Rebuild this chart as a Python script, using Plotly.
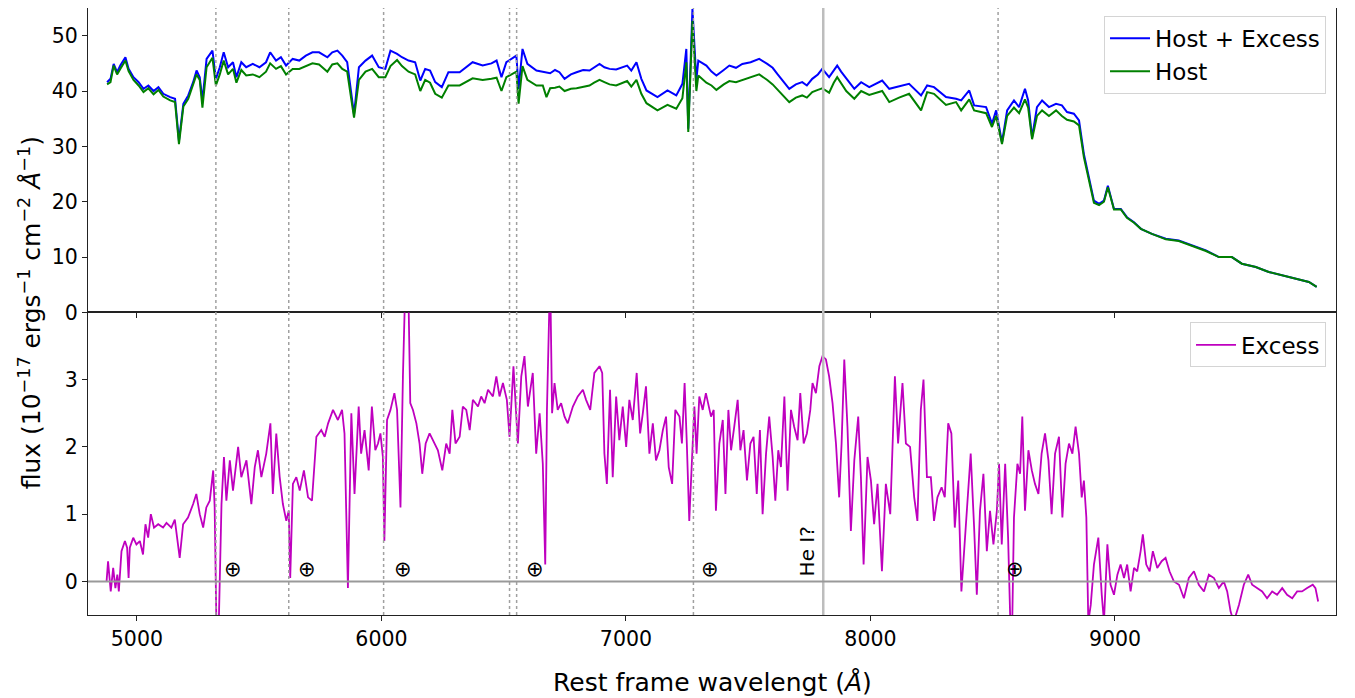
import plotly.graph_objects as go

# ---------------- data ----------------
wl_top = [4878, 4892, 4905, 4919, 4932, 4953, 4966, 4986, 5007, 5027, 5047, 5068, 5088, 5108,
          5136, 5156, 5172, 5190, 5210, 5230, 5244, 5257, 5268, 5285, 5309, 5323, 5339, 5355,
          5373, 5393, 5407, 5427, 5447, 5474, 5501, 5528, 5545, 5569, 5589, 5610, 5637, 5664,
          5691, 5718, 5745, 5779, 5799, 5820, 5840, 5860, 5888, 5908, 5935, 5962, 5989, 6016,
          6037, 6064, 6084, 6111, 6138, 6159, 6179, 6199, 6220, 6247, 6274, 6320, 6373, 6414,
          6450, 6471, 6491, 6511, 6552, 6561, 6577, 6597, 6634, 6660, 6675,
          6690, 6710, 6728, 6749, 6775, 6798, 6825, 6851, 6870, 6892, 6912, 6933, 6960, 6986,
          7005, 7022, 7043, 7063, 7084, 7129, 7170, 7206, 7231, 7247,
          7255, 7272, 7288, 7296,
          7329, 7350, 7370, 7400, 7423, 7450, 7476, 7510, 7545, 7578, 7600, 7619, 7640, 7668,
          7695, 7721, 7740, 7762, 7785, 7803, 7831, 7850, 7864, 7880, 7901, 7920, 7934, 7962,
          7995, 8048, 8077, 8117, 8158, 8207, 8232, 8260,
          8309, 8350, 8371, 8404, 8424, 8473, 8497, 8514, 8538, 8559, 8587, 8608, 8632, 8645,
          8661, 8681, 8702, 8730, 8759, 8783, 8804, 8832, 8853, 8873, 8894, 8914, 8935, 8955,
          8971, 8996, 9024, 9049, 9078, 9106, 9151, 9208, 9261, 9315, 9372, 9425, 9478, 9519,
          9576, 9629, 9682, 9739, 9793, 9825]

host_plus_excess = [41.6, 42.2, 44.9, 43.4, 44.6, 46.1, 44.0, 42.5, 41.6, 40.4, 41.0, 40.0, 40.7, 39.5,
                    38.9, 38.6, 31.0, 37.7, 39.2, 41.6, 43.7, 42.5, 38.3, 45.8, 47.3, 42.2, 44.3, 47.0,
                    44.3, 45.2, 42.5, 45.2, 44.3, 44.9, 44.3, 45.2, 47.0, 45.5, 46.1, 44.6, 45.8, 45.5,
                    46.4, 47.0, 47.0, 46.1, 47.0, 47.3, 46.4, 45.2, 35.8, 44.3, 45.5, 46.4, 44.3, 44.0,
                    47.3, 46.7, 46.1, 45.5, 45.2, 41.9, 44.0, 43.7, 41.6, 40.7, 43.4, 43.4, 45.2, 44.6,
                    45.0, 45.5, 42.5, 45.2, 46.4, 40.4, 47.6, 44.9, 43.7, 43.5, 43.4,
                    43.2, 43.8, 43.4, 42.2, 43.0, 43.4, 43.8, 43.7, 44.2, 44.9, 44.3, 44.0, 43.9, 44.3,
                    44.6, 43.7, 45.2, 42.2, 40.1, 38.9, 40.1, 39.2, 41.3, 47.6,
                    33.2, 54.8, 42.0, 45.5,
                    44.6, 43.5, 42.8, 43.8, 44.6, 44.2, 44.9, 45.2, 45.8, 44.9, 44.2, 43.1, 42.0, 40.4,
                    41.2, 41.6, 41.0, 42.2, 43.0, 44.0, 42.5, 43.8, 44.6, 43.5, 42.2, 41.2, 40.4, 41.6,
                    40.7, 41.9, 40.4, 40.8, 41.3, 39.2, 41.0, 40.7,
                    38.9, 38.6, 38.3, 40.1, 37.4, 37.1, 34.1, 36.5, 30.7, 36.5, 38.3, 37.1, 40.4, 38.3,
                    31.6, 37.1, 38.3, 37.1, 37.7, 37.4, 36.2, 35.9, 34.7, 28.6, 24.4, 20.2, 19.6, 20.2,
                    22.9, 18.7, 18.7, 17.2, 16.3, 15.1, 14.2, 13.3, 13.0, 12.1, 11.2, 10.0, 10.0, 8.8,
                    8.2, 7.3, 6.7, 6.1, 5.5, 4.6]

host = [41.2, 41.6, 44.6, 43.0, 44.0, 45.5, 43.6, 42.0, 41.0, 39.8, 40.5, 39.4, 40.2, 39.0,
        38.3, 38.0, 30.4, 37.2, 38.6, 41.0, 43.0, 42.0, 37.0, 44.3, 46.0, 41.0, 43.0, 45.5,
        43.0, 44.0, 41.5, 43.8, 42.8, 43.0, 42.5, 43.5, 45.0, 44.0, 44.5, 43.0, 44.0, 44.0,
        44.5, 45.0, 44.8, 43.5, 44.8, 45.0, 44.0, 43.5, 35.2, 42.0, 43.5, 44.0, 42.5, 42.5,
        44.5, 45.6, 44.5, 43.5, 43.0, 40.0, 42.0, 41.5, 39.5, 38.8, 41.0, 41.0, 42.3, 42.0,
        42.2, 42.4, 40.0, 42.5, 43.5, 37.7, 44.5, 42.0, 41.0, 41.0, 38.9,
        40.5, 40.6, 40.8, 40.0, 40.4, 40.5, 40.8, 41.0, 41.5, 42.0, 41.6, 41.2, 41.0, 41.4,
        41.8, 40.8, 42.0, 39.5, 37.8, 36.5, 37.5, 36.8, 38.7, 45.2,
        32.6, 52.7, 40.0, 42.8,
        41.5, 41.0, 40.2, 41.2, 41.8, 41.6, 42.0, 42.5, 43.0, 42.0, 41.2, 40.3, 39.3, 38.0,
        38.8, 39.2, 38.8, 39.8, 40.2, 40.5, 39.7, 41.5, 42.5, 41.5, 40.0, 39.2, 38.6, 40.0,
        39.3, 40.0, 38.0, 38.8, 39.5, 36.5, 39.8, 39.5,
        37.5, 38.0, 36.5, 38.5, 36.5, 36.0, 33.5, 35.5, 30.4, 35.5, 37.0, 36.0, 38.5, 37.0,
        31.3, 35.5, 36.5, 35.5, 36.5, 35.5, 34.8, 34.5, 33.8, 28.0, 24.0, 19.8, 19.4, 20.0,
        22.6, 18.6, 18.6, 17.1, 16.2, 15.1, 14.2, 13.2, 12.9, 12.0, 11.1, 10.0, 10.0, 8.8,
        8.2, 7.3, 6.7, 6.1, 5.5, 4.6]

wl_exc = [4876, 4882, 4893, 4903, 4912, 4920, 4926, 4937, 4951, 4960, 4966, 4971, 4985, 4998,
          5012, 5025, 5035, 5046, 5057, 5070, 5087, 5107, 5121, 5141, 5155, 5175, 5189, 5209,
          5230, 5243, 5257, 5271, 5284, 5298, 5312, 5318, 5325, 5335, 5346, 5356, 5366, 5380,
          5393, 5414, 5427, 5448, 5468, 5482, 5495, 5509, 5529, 5546, 5556, 5570, 5584, 5597,
          5611, 5621, 5627, 5638, 5652, 5666, 5683, 5700, 5716, 5734, 5754, 5768, 5782, 5802,
          5822, 5839, 5849, 5863, 5877, 5890, 5907, 5917, 5931, 5948, 5961, 5975, 5986, 5996,
          6006, 6012, 6023, 6037, 6053, 6064, 6078, 6088, 6099, 6109, 6118, 6129, 6143, 6156,
          6167, 6181, 6197, 6211, 6231, 6249, 6265, 6279, 6290, 6303, 6320, 6333, 6347, 6361,
          6374, 6395, 6408, 6422, 6436, 6456, 6470, 6483, 6497, 6513, 6524, 6540, 6558, 6572,
          6585, 6599, 6619, 6633, 6647, 6660, 6670, 6677, 6685, 6690, 6698, 6708, 6721, 6735,
          6749, 6762, 6783, 6803, 6824, 6837, 6854, 6871, 6892, 6903, 6912, 6922, 6935, 6946,
          6960, 6973, 6987, 7001, 7014, 7028, 7044, 7058, 7069, 7082, 7096, 7110, 7123, 7137,
          7151, 7164, 7175, 7189, 7202, 7219, 7229, 7240, 7249, 7259, 7270, 7280, 7289, 7300,
          7314, 7327, 7348, 7359, 7368, 7382, 7396, 7407, 7419, 7430, 7443, 7457, 7468, 7481,
          7495, 7509, 7522, 7535, 7548, 7559, 7573, 7586, 7600, 7611, 7623, 7634, 7648, 7661,
          7675, 7688, 7702, 7713, 7727, 7740, 7754, 7763, 7777, 7791, 7804, 7818, 7831, 7845,
          7859, 7872, 7882, 7893, 7906, 7920, 7934, 7950, 7961, 7972, 7988, 8002, 8015, 8029,
          8047, 8063, 8081, 8100, 8113, 8131, 8145, 8162, 8179, 8192, 8206, 8217, 8231, 8247,
          8260, 8274, 8291, 8304, 8318, 8331, 8345, 8359, 8372, 8386, 8397, 8410, 8424, 8435,
          8448, 8462, 8476, 8489, 8503, 8517, 8526, 8537, 8551, 8563, 8572, 8580, 8587, 8601,
          8612, 8621, 8632, 8646, 8660, 8673, 8687, 8700, 8714, 8728, 8741, 8755, 8771, 8785,
          8798, 8812, 8826, 8839, 8853, 8864, 8873, 8883, 8891, 8901, 8914, 8932, 8946, 8955,
          8969, 8982, 8996, 9010, 9023, 9037, 9050, 9064, 9078, 9091, 9105, 9114, 9128, 9142,
          9155, 9173, 9191, 9207, 9223, 9241, 9262, 9282, 9302, 9323, 9343, 9364, 9384, 9405,
          9425, 9445, 9459, 9473, 9486, 9507, 9527, 9545, 9561, 9582, 9602, 9622, 9643, 9663,
          9684, 9704, 9725, 9745, 9765, 9786, 9809, 9820, 9831]

excess = [0.0, 0.3, -0.15, 0.2, -0.1, 0.1, -0.15, 0.45, 0.6, 0.5, 0.05, 0.5, 0.65, 0.55,
          0.6, 0.4, 0.85, 0.65, 1.0, 0.8, 0.85, 0.8, 0.87, 0.8, 0.92, 0.35, 0.85, 0.95,
          1.15, 1.3, 1.0, 0.8, 1.1, 1.2, 1.65, 1.1, -0.6, -0.6, 1.15, 1.85, 1.2, 1.8,
          1.35, 2.0, 1.55, 1.8, 1.15, 1.7, 1.95, 1.55, 1.9, 2.35, 1.3, 2.2, 1.55, 1.15,
          0.9, 1.05, 0.05, 1.45, 1.55, 1.35, 1.65, 1.25, 1.2, 2.15, 2.25, 2.15, 2.35, 2.55,
          2.4, 2.55, 2.2, -0.1, 2.5, 1.3, 2.6, 1.9, 2.25, 1.65, 2.6, 1.95, 2.05, 2.2,
          1.85, 0.6, 2.4, 2.55, 2.8, 2.55, 1.1, 3.05, 4.6, 4.6, 2.65, 2.55, 2.35, 2.05,
          1.6, 2.05, 2.2, 2.1, 1.95, 1.65, 2.05, 1.9, 2.55, 2.05, 2.15, 2.6, 2.55, 2.25,
          2.7, 2.6, 2.75, 2.65, 2.85, 2.75, 3.05, 2.75, 2.95, 2.7, 2.15, 3.2, 2.05, 3.05,
          3.35, 2.6, 3.1, 1.9, 2.5, 1.75, 0.25, 2.55, 4.6, 4.6, 2.5, 2.95, 2.55, 2.65,
          2.45, 2.35, 2.6, 2.75, 2.85, 2.7, 2.55, 3.1, 3.2, 3.1, 1.9, 1.45, 2.85, 1.55,
          2.75, 2.1, 2.6, 2.0, 2.7, 2.4, 3.1, 2.2, 2.5, 2.9, 1.9, 2.35, 1.8, 1.95,
          2.25, 2.45, 1.7, 1.45, 2.55, 2.45, 2.05, 2.95, 2.05, 0.9, 1.8, 2.6, 1.9, 2.75,
          2.55, 2.8, 2.45, 2.55, 1.05, 2.05, 2.4, 1.3, 2.55, 1.95, 2.3, 2.7, 1.95, 2.25,
          1.5, 2.05, 2.15, 1.3, 2.25, 1.0, 1.9, 2.45, 1.85, 1.2, 1.95, 1.7, 2.75, 1.35,
          2.55, 2.3, 2.1, 2.8, 2.05, 2.2, 2.55, 2.95, 2.8, 3.2, 3.35, 3.3, 3.05, 2.65,
          2.05, 1.25, 2.05, 3.3, 2.3, 0.75, 1.8, 2.45, 1.55, 0.25, 1.85, 1.5, 0.85, 1.45,
          0.15, 1.45, 1.0, 3.05, 2.05, 2.95, 2.05, 2.0, 1.25, 0.9, 2.55, 3.0, 1.55, 1.55,
          0.9, 1.25, 1.4, 1.25, 2.35, 2.2, 0.8, 1.5, -0.15, 0.6, 1.3, 1.9, 0.8, -0.2,
          1.05, 1.6, 0.45, 1.05, 0.55, 1.05, 1.75, 0.55, 1.75, 0.65, -0.6, -0.6, 0.95, 1.75,
          1.6, 2.45, 1.05, 1.95, 1.65, 1.45, 1.3, 1.9, 2.2, 1.8, 1.0, 1.9, 2.15, 0.95,
          1.75, 2.05, 1.9, 2.3, 1.9, 1.25, 1.5, 0.95, -0.6, -0.35, 0.25, 0.65, -0.2, -0.6,
          0.55, -0.05, -0.2, 0.1, 0.25, 0.05, 0.25, -0.15, 0.2, 0.15, 0.45, 0.7, 0.25, 0.15,
          0.45, 0.2, 0.3, 0.35, 0.15, 0.0, -0.05, -0.25, 0.05, 0.15, -0.05, -0.15, 0.1, 0.05,
          -0.1, 0.0, -0.15, -0.45, -0.6, -0.35, -0.05, 0.1, -0.05, -0.1, -0.15, -0.25, -0.15, -0.2,
          -0.1, -0.2, -0.25, -0.15, -0.15, -0.1, -0.05, -0.1, -0.3]

telluric_lines = [5323, 5621, 6009, 6524, 6553, 7276, 8522]
he_line = 7807
earth_x = [5392, 5695, 6087, 6630, 7345, 8591]
earth_y = 0.18

# ---------------- figure ----------------
fig = go.Figure()

fig.add_trace(go.Scatter(x=wl_top, y=host_plus_excess, mode="lines", name="Host + Excess",
                         line=dict(color="#0000ff", width=2), xaxis="x", yaxis="y"))
fig.add_trace(go.Scatter(x=wl_top, y=host, mode="lines", name="Host",
                         line=dict(color="#008000", width=2), xaxis="x", yaxis="y"))
fig.add_trace(go.Scatter(x=wl_exc, y=excess, mode="lines", name="Excess",
                         line=dict(color="#bf00bf", width=1.8), xaxis="x2", yaxis="y2",
                         legend="legend2"))

shapes = []
for w in telluric_lines:
    shapes.append(dict(type="line", xref="x2", yref="paper", x0=w, x1=w, y0=0, y1=1,
                       line=dict(color="#a0a0a0", width=1.5, dash="dot"), layer="above"))
shapes.append(dict(type="line", xref="x2", yref="paper", x0=he_line, x1=he_line, y0=0, y1=1,
                   line=dict(color="#bdbdbd", width=2.5), layer="above"))
shapes.append(dict(type="line", xref="paper", yref="y2", x0=0, x1=1, y0=0, y1=0,
                   line=dict(color="#999999", width=2), layer="above"))

annotations = []
for ex in earth_x:
    annotations.append(dict(x=ex, y=earth_y, xref="x2", yref="y2", text="⊕", showarrow=False,
                            font=dict(size=21, color="black", family="DejaVu Sans"),
                            xanchor="center", yanchor="middle"))
annotations.append(dict(x=7742, y=0.05, xref="x2", yref="y2", text="He I?", showarrow=False,
                        textangle=-90, font=dict(size=20, color="black", family="DejaVu Sans"),
                        xanchor="center", yanchor="bottom"))
annotations.append(dict(x=-0.046, y=0.498, xref="paper", yref="paper",
                        text="flux (10<sup>−17</sup> ergs<sup>−1</sup> cm<sup>−2</sup> <i>Å</i><sup>−1</sup>)",
                        showarrow=False, textangle=-90,
                        font=dict(size=25, color="black", family="DejaVu Sans"),
                        xanchor="center", yanchor="middle"))
annotations.append(dict(x=0.5, y=-0.112, xref="paper", yref="paper",
                        text="Rest frame wavelengt (<i>Å</i>)", showarrow=False,
                        font=dict(size=25, color="black", family="DejaVu Sans"),
                        xanchor="center", yanchor="middle"))

axis_common = dict(showline=True, linecolor="#222222", linewidth=1, mirror=True,
                   ticks="outside", ticklen=5, tickwidth=1, tickcolor="#222222",
                   showgrid=False, zeroline=False,
                   tickfont=dict(size=20.5, color="black", family="DejaVu Sans"))

fig.update_layout(
    width=1347, height=690,
    margin=dict(l=80, r=19, t=0, b=83),
    paper_bgcolor="white", plot_bgcolor="white",
    font=dict(family="DejaVu Sans", color="black"),
    xaxis=dict(domain=[0, 1], anchor="y", range=[4800, 9904], matches="x2",
               showticklabels=False, tickvals=[5000, 6000, 7000, 8000, 9000], **axis_common),
    yaxis=dict(domain=[0.4985, 1], anchor="x", range=[0, 55],
               tickvals=[0, 10, 20, 30, 40, 50], **axis_common),
    xaxis2=dict(domain=[0, 1], anchor="y2", range=[4800, 9904],
                tickvals=[5000, 6000, 7000, 8000, 9000], **axis_common),
    yaxis2=dict(domain=[0, 0.4985], anchor="x2", range=[-0.5, 4],
                tickvals=[0, 1, 2, 3], **axis_common),
    shapes=shapes,
    annotations=annotations,
    legend=dict(x=0.992, y=0.987, xanchor="right", yanchor="top",
                bgcolor="rgba(255,255,255,0.85)", bordercolor="#d4d4d4", borderwidth=1,
                itemwidth=40,
                font=dict(size=23, color="black", family="DejaVu Sans")),
    legend2=dict(x=0.992, y=0.482, xanchor="right", yanchor="top",
                 bgcolor="rgba(255,255,255,0.85)", bordercolor="#d4d4d4", borderwidth=1,
                 itemwidth=40,
                 font=dict(size=23, color="black", family="DejaVu Sans")),
)

fig.write_html("out.html")
